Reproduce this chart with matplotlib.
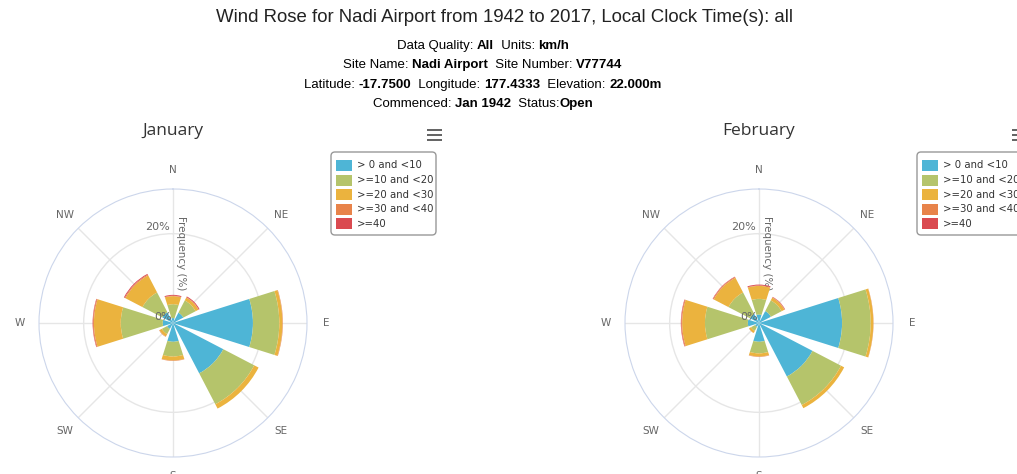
import numpy as np
import matplotlib
matplotlib.use('Agg')
import matplotlib.pyplot as plt
from matplotlib.patches import FancyBboxPatch, Rectangle
from matplotlib.transforms import IdentityTransform

# Directions and speed bins (km/h)
directions = ['N', 'NE', 'E', 'SE', 'S', 'SW', 'W', 'NW']
speed_bins = ['> 0 and <10', '>=10 and <20', '>=20 and <30', '>=30 and <40', '>=40']
bin_colors = ['#4eb5d6', '#b5c46b', '#ebb33e', '#e8834a', '#da4a50']

# January frequencies (%) per speed bin, in direction order
jan_0_10 = [1.1, 2.6, 17.9, 12.7, 4.2, 1.5, 2.3, 2.7]
jan_10_20 = [3.1, 3.1, 5.9, 7.8, 3.3, 1.3, 9.4, 5.0]
jan_20_30 = [1.8, 0.7, 0.7, 1.1, 0.9, 0.6, 6.0, 4.3]
jan_30_40 = [0.1, 0.1, 0.1, 0.0, 0.1, 0.1, 0.2, 0.2]
jan_40 = [0.2, 0.2, 0.0, 0.0, 0.0, 0.0, 0.1, 0.2]

# February frequencies (%)
feb_0_10 = [1.9, 3.0, 18.6, 13.5, 4.2, 1.0, 2.5, 2.3]
feb_10_20 = [3.5, 2.7, 6.4, 7.2, 2.6, 1.0, 9.6, 5.4]
feb_20_30 = [2.9, 0.7, 0.6, 0.8, 0.7, 0.5, 5.1, 3.7]
feb_30_40 = [0.1, 0.1, 0.05, 0.0, 0.1, 0.05, 0.2, 0.2]
feb_40 = [0.2, 0.1, 0.0, 0.0, 0.0, 0.0, 0.1, 0.1]

W, H = 1017, 474
fig = plt.figure(figsize=(W / 100, H / 100), dpi=100)
fig.patch.set_facecolor('white')


def fx(x):
    return x / W


def fy(y):
    return 1 - y / H


# Title
fig.text(fx(504), fy(18), 'Wind Rose for Nadi Airport from 1942 to 2017, Local Clock Time(s): all',
         ha='center', va='center', fontsize=13.4, family='Liberation Sans', color='#222222')

# Subtitle lines with bold values
sub_lines = [
    (46, [('Data Quality: ', False), ('All', True), ('  Units: ', False), ('km/h', True)]),
    (65, [('Site Name: ', False), ('Nadi Airport', True), ('  Site Number: ', False), ('V77744', True)]),
    (85, [('Latitude: ', False), ('-17.7500', True), ('  Longitude: ', False), ('177.4333', True),
          ('  Elevation: ', False), ('22.000m', True)]),
    (104, [('Commenced: ', False), ('Jan 1942', True), ('  Status:', False), ('Open', True)]),
]
renderer = fig.canvas.get_renderer()
for y, parts in sub_lines:
    texts = []
    widths = []
    for s, bold in parts:
        t = fig.text(0, fy(y), s, ha='left', va='center', fontsize=9.5, family='Liberation Sans',
                     fontweight='bold' if bold else 'normal', color='#000000')
        texts.append(t)
        widths.append(t.get_window_extent(renderer).width)
    x = 483 - sum(widths) / 2
    for t, w in zip(texts, widths):
        t.set_x(fx(x))
        x += w


def hamburger(x0):
    for yy in (130, 135, 140):
        fig.add_artist(Rectangle((x0, H - yy - 1), 15, 2.2, transform=IdentityTransform(),
                                 facecolor='#666666', edgecolor='none'))


def legend_box(x0, y0):
    fig.add_artist(FancyBboxPatch((x0, H - y0 - 83), 105, 83, boxstyle='round,pad=0,rounding_size=4',
                                  transform=IdentityTransform(), facecolor='white',
                                  edgecolor='#999999', linewidth=1))
    for i, (lab, c) in enumerate(zip(speed_bins, bin_colors)):
        yy = y0 + 13.5 + i * 14.5
        fig.add_artist(Rectangle((x0 + 5, H - yy - 5.5), 16, 11, transform=IdentityTransform(),
                                 facecolor=c, edgecolor='none'))
        fig.text(fx(x0 + 26), fy(yy), lab, ha='left', va='center', fontsize=7.3,
                 family='DejaVu Sans', color='#333333')


def rose(cx, month, series):
    r_px = 134
    ax = fig.add_axes([fx(cx - r_px), fy(323 + r_px), 2 * r_px / W, 2 * r_px / H], projection='polar')
    ax.set_theta_zero_location('N')
    ax.set_theta_direction(-1)
    ax.set_ylim(0, 30)
    theta = np.radians(np.arange(len(directions)) * 45)
    ax.set_xticks(theta)
    ax.set_xticklabels([])
    ax.set_yticks([20])
    ax.set_yticklabels([])
    ax.grid(True, color='#e6e6e6', linewidth=1)
    ax.spines['polar'].set_color('#ccd6eb')
    ax.set_axisbelow(True)
    ax.tick_params(length=0)

    width = np.radians(35)
    bottom = np.zeros(len(directions))
    for vals, c in zip(series, bin_colors):
        vals = np.array(vals)
        ax.bar(theta, vals, width=width, bottom=bottom, color=c, linewidth=0, zorder=3)
        bottom += vals

    for th, d in zip(theta, directions):
        ax.text(th, 34.2, d, ha='center', va='center', fontsize=7.5, color='#666666',
                family='DejaVu Sans', clip_on=False)
    ax.annotate('20%', xy=(0, 20), xytext=(-2, 1), textcoords='offset points',
                ha='right', va='bottom', fontsize=8, color='#666666', zorder=2)
    ax.annotate('0%', xy=(0, 0), xytext=(-1, 1), textcoords='offset points',
                ha='right', va='bottom', fontsize=8, color='#666666', zorder=4)
    ax.annotate('Frequency (%)', xy=(0, 15.6), xytext=(6, 0), textcoords='offset points',
                rotation=270, ha='center', va='center', fontsize=7.4, color='#666666', zorder=2)

    fig.text(fx(cx), fy(131), month, ha='center', va='center', fontsize=12.5,
             family='Open Sans', color='#333333')


rose(173, 'January', [jan_0_10, jan_10_20, jan_20_30, jan_30_40, jan_40])
rose(759, 'February', [feb_0_10, feb_10_20, feb_20_30, feb_30_40, feb_40])
hamburger(427)
hamburger(1012)
legend_box(331, 152)
legend_box(917, 152)

fig.savefig('out.png', dpi=100, facecolor='white')
